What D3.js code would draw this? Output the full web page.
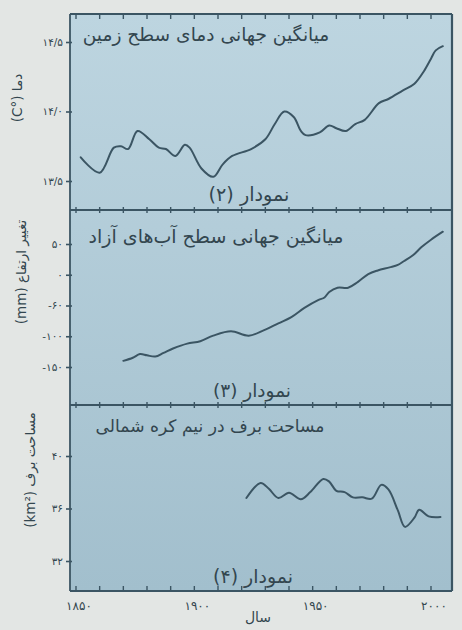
<!DOCTYPE html>
<html>
<head>
<meta charset="utf-8">
<script src="https://cdn.jsdelivr.net/npm/d3@7"></script>
<style>
  html, body { margin: 0; padding: 0; background: #e3e6e4; }
  svg { display: block; }
  text { font-family: "DejaVu Sans", sans-serif; fill: #33464f; }
</style>
</head>
<body>
<svg id="chart" width="462" height="630"></svg>
<script>
// ---------- data ----------
const tempYears  = [1852, 1860, 1866, 1869, 1872, 1876, 1881, 1885, 1888, 1892, 1896, 1898, 1903, 1908, 1912, 1916, 1924, 1930, 1934, 1938, 1942, 1945, 1947, 1953, 1957, 1960, 1964, 1968, 1972, 1978, 1982, 1988, 1993, 1997, 2000, 2002, 2005];
const tempValues = [13.67, 13.56, 13.74, 13.75, 13.73, 13.86, 13.80, 13.74, 13.73, 13.68, 13.76, 13.74, 13.59, 13.53, 13.62, 13.68, 13.73, 13.80, 13.91, 14.00, 13.96, 13.86, 13.83, 13.85, 13.90, 13.88, 13.86, 13.91, 13.94, 14.06, 14.09, 14.15, 14.20, 14.29, 14.38, 14.44, 14.47];

const seaYears  = [1870, 1874, 1877, 1880, 1883.5, 1887, 1891, 1897, 1902.5, 1908, 1915.5, 1923, 1929.5, 1935.5, 1941, 1946.5, 1952.5, 1955, 1957, 1960.5, 1965, 1969, 1973.5, 1977.5, 1982.5, 1986, 1988.5, 1992.5, 1996, 2000, 2005];
const seaValues = [-140, -135, -129, -131, -133, -127, -120, -112, -108, -99, -92, -99, -90, -79, -69, -54, -41, -37, -28, -21, -21, -12, 1, 7, 12, 16, 22, 32, 45, 57, 70];

const snowYears  = [1922, 1928, 1931.5, 1935.5, 1940, 1945, 1949, 1954.5, 1957, 1960, 1963.5, 1967, 1971, 1975, 1979, 1982, 1986, 1989, 1993, 1995, 1999, 2004];
const snowValues = [36.8, 37.95, 37.5, 36.8, 37.2, 36.7, 37.25, 38.25, 38.05, 37.35, 37.25, 36.85, 36.85, 36.75, 37.8, 37.45, 35.85, 34.6, 35.3, 35.9, 35.4, 35.35];

const decadeTicks   = [1850, 1860, 1870, 1880, 1890, 1900, 1910, 1920, 1930, 1940, 1950, 1960, 1970, 1980, 1990, 2000];
const yearLabelVals = [1850, 1900, 1950, 2000];
const yearLabels    = ["۱۸۵۰", "۱۹۰۰", "۱۹۵۰", "۲۰۰۰"];

const tempTicks = [14.5, 14.0, 13.5];
const tempTickLabels = ["۱۴/۵", "۱۴/۰", "۱۳/۵"];
const seaTicks = [50, 0, -50, -100, -150];
const seaTickLabels = ["۵۰", "۰", "-۶۰", "-۱۰۰", "-۱۵۰"];
const snowTicks = [40, 36, 32];
const snowTickLabels = ["۴۰", "۳۶", "۳۲"];

const titles = ["میانگین جهانی دمای سطح زمین", "میانگین جهانی سطح آب\u200cهای آزاد", "مساحت برف در نیم کره شمالی"];
const panelNames = ["نمودار (۲)", "نمودار (۳)", "نمودار (۴)"];
const yTitles = ["دما (°C)", "تغییر ارتفاع (mm)", "مساحت برف (km²)"];
const xTitle = "سال";

// ---------- layout ----------
const L = 70, R = 452;
const edges = [14, 210, 405, 591];
const ink = "#3b5563";

const svg = d3.select("#chart");
const defs = svg.append("defs");
const grad = defs.append("linearGradient").attr("id", "bg").attr("x1", 0).attr("y1", 0).attr("x2", 0).attr("y2", 1);
grad.append("stop").attr("offset", "0%").attr("stop-color", "#bdd5e0");
grad.append("stop").attr("offset", "100%").attr("stop-color", "#a2bfcd");

svg.append("rect").attr("x", L).attr("y", edges[0]).attr("width", R - L).attr("height", edges[3] - edges[0]).attr("fill", "url(#bg)");

const x = d3.scaleLinear().domain([1850, 2000]).range([76, 431]);
const yT = d3.scaleLinear().domain([13.5, 14.5]).range([181, 42]);
const yS = d3.scaleLinear().domain([-150, 50]).range([367, 244]);
const yN = d3.scaleLinear().domain([32, 40]).range([561, 456]);

// frame
const frame = svg.append("g").attr("stroke", ink).attr("fill", "none");
frame.append("line").attr("x1", L).attr("x2", L).attr("y1", edges[0]).attr("y2", edges[3]).attr("stroke-width", 1.8);
frame.append("line").attr("x1", R).attr("x2", R).attr("y1", edges[0]).attr("y2", edges[3]).attr("stroke-width", 2.2);
edges.forEach(e => frame.append("line").attr("x1", L).attr("x2", R).attr("y1", e).attr("y2", e).attr("stroke-width", 1.8));

// decade ticks
function hTicks(yPos, up, down) {
  frame.selectAll(null).data(decadeTicks).enter().append("line")
    .attr("x1", d => x(d)).attr("x2", d => x(d))
    .attr("y1", yPos - up).attr("y2", yPos + down).attr("stroke-width", 1.4);
}
hTicks(edges[0], 0, 5);
hTicks(edges[1], 3, 3);
hTicks(edges[2], 3, 3);
hTicks(edges[3], 5, 0);

// left axes
function leftAxis(scale, ticks, labels) {
  const ax = d3.axisLeft(scale).tickValues(ticks).tickSizeInner(6).tickSizeOuter(0).tickPadding(3)
    .tickFormat((d, i) => labels[i]);
  const g = svg.append("g").attr("transform", `translate(${L + 2},0)`).call(ax);
  g.select(".domain").remove();
  g.selectAll(".tick line").attr("stroke", ink).attr("stroke-width", 1.6);
  g.selectAll(".tick text").style("font-size", "10.5px").attr("fill", "#33464f").attr("direction", "ltr");
}
leftAxis(yT, tempTicks, tempTickLabels);
leftAxis(yS, seaTicks, seaTickLabels);
leftAxis(yN, snowTicks, snowTickLabels);

// bottom year labels
svg.selectAll(null).data(yearLabelVals).enter().append("text")
  .attr("x", d => x(d) + 3).attr("y", 610)
  .attr("text-anchor", "middle").attr("direction", "ltr")
  .style("font-size", "12px").style("letter-spacing", "1px")
  .text((d, i) => yearLabels[i]);

svg.append("text").attr("x", 258).attr("y", 622).attr("text-anchor", "middle").attr("direction", "rtl")
  .style("font-size", "14px").text(xTitle);

// lines
const line = d3.line().curve(d3.curveCatmullRom.alpha(0.5));
function drawSeries(years, vals, yScale) {
  svg.append("path")
    .attr("d", line(years.map((yr, i) => [x(yr), yScale(vals[i])])))
    .attr("fill", "none").attr("stroke", ink).attr("stroke-width", 2)
    .attr("stroke-linejoin", "round").attr("stroke-linecap", "round");
}
drawSeries(tempYears, tempValues, yT);
drawSeries(seaYears, seaValues, yS);
drawSeries(snowYears, snowValues, yN);

// text fitting helper
function fit(sel, width) {
  const len = sel.node().getComputedTextLength();
  const fs = parseFloat(sel.style("font-size"));
  sel.style("font-size", (fs * width / len).toFixed(2) + "px");
}

// panel titles
const titlePos = [[206, 41, 247], [216, 243, 255], [210, 432, 229]];
titles.forEach((t, i) => {
  const s = svg.append("text").attr("x", titlePos[i][0]).attr("y", titlePos[i][1])
    .attr("text-anchor", "middle").attr("direction", "rtl").style("font-size", "15px").text(t);
  fit(s, titlePos[i][2]);
});

// panel names
const namePos = [[249, 201, 81], [252, 397, 78], [253, 583, 80]];
panelNames.forEach((t, i) => {
  const s = svg.append("text").attr("x", namePos[i][0]).attr("y", namePos[i][1])
    .attr("text-anchor", "middle").attr("direction", "rtl").style("font-size", "13px").text(t);
  fit(s, namePos[i][2]);
});

// rotated y titles
const yTitlePos = [[22, 98], [26, 272], [35, 470]];
yTitles.forEach((t, i) => {
  svg.append("text")
    .attr("transform", `translate(${yTitlePos[i][0]},${yTitlePos[i][1]}) rotate(-90)`)
    .attr("text-anchor", "middle").attr("direction", "rtl").style("font-size", "13.5px").text(t);
});
</script>
</body>
</html>
